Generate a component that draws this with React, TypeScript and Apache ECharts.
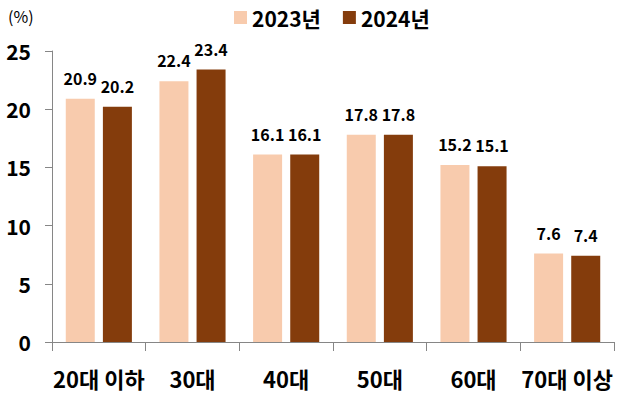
import React, { useEffect, useRef } from "react";
import * as echarts from "echarts";

const categories = ["20대 이하", "30대", "40대", "50대", "60대", "70대 이상"];
const series2023 = [20.9, 22.4, 16.1, 17.8, 15.2, 7.6];
const series2024 = [20.2, 23.4, 16.1, 17.8, 15.1, 7.4];
const seriesNames = ["2023년", "2024년"];
const yTicks = { min: 0, max: 25, interval: 5 };

const FONT = "'Noto Sans CJK KR', 'Noto Sans', sans-serif";

export default function App() {
  const ref = useRef<HTMLDivElement>(null);
  useEffect(() => {
    if (!ref.current) return;
    const chart = echarts.init(ref.current, undefined, { renderer: "svg" });
    const labelStyle = {
      show: true,
      position: "top" as const,
      distance: 13,
      color: "#000",
      fontFamily: FONT,
      fontWeight: "bold" as const,
      fontSize: 16,
    };
    chart.setOption({
      animation: false,
      backgroundColor: "#fff",
      graphic: [
        {
          type: "text",
          left: 8,
          top: 8,
          style: { text: "(%)", fontFamily: FONT, fontSize: 16, fill: "#000" },
        },
      ],
      legend: {
        left: 229,
        top: 2,
        itemWidth: 13,
        itemHeight: 13,
        itemGap: 22,
        icon: "rect",
        textStyle: { fontFamily: FONT, fontWeight: "bold", fontSize: 21, color: "#000" },
        data: seriesNames,
      },
      grid: { left: 52, right: 11, top: 51, bottom: 57, containLabel: false },
      xAxis: {
        type: "category",
        data: categories,
        axisLine: { show: true, lineStyle: { color: "#868686", width: 1 } },
        axisTick: { show: true, interval: 0, length: 9, lineStyle: { color: "#868686" } },
        axisLabel: {
          interval: 0,
          margin: 25,
          color: "#000",
          fontFamily: FONT,
          fontWeight: "bold",
          fontSize: 22,
        },
      },
      yAxis: {
        type: "value",
        min: yTicks.min,
        max: yTicks.max,
        interval: yTicks.interval,
        splitLine: { show: false },
        axisLine: { show: true, lineStyle: { color: "#868686", width: 1 } },
        axisTick: { show: true, length: 7, lineStyle: { color: "#868686" } },
        axisLabel: {
          margin: 21,
          color: "#000",
          fontFamily: FONT,
          fontWeight: "bold",
          fontSize: 21,
        },
      },
      series: [
        {
          name: seriesNames[0],
          type: "bar",
          data: series2023,
          barWidth: 29,
          barGap: "28%",
          itemStyle: { color: "#F8CBAD" },
          label: labelStyle,
        },
        {
          name: seriesNames[1],
          type: "bar",
          data: series2024,
          barWidth: 29,
          barGap: "28%",
          itemStyle: { color: "#843C0C" },
          label: labelStyle,
        },
      ],
    });
    return () => chart.dispose();
  }, []);
  return <div ref={ref} style={{ width: 625, height: 399, position: "absolute", left: 0, top: 0 }} />;
}
